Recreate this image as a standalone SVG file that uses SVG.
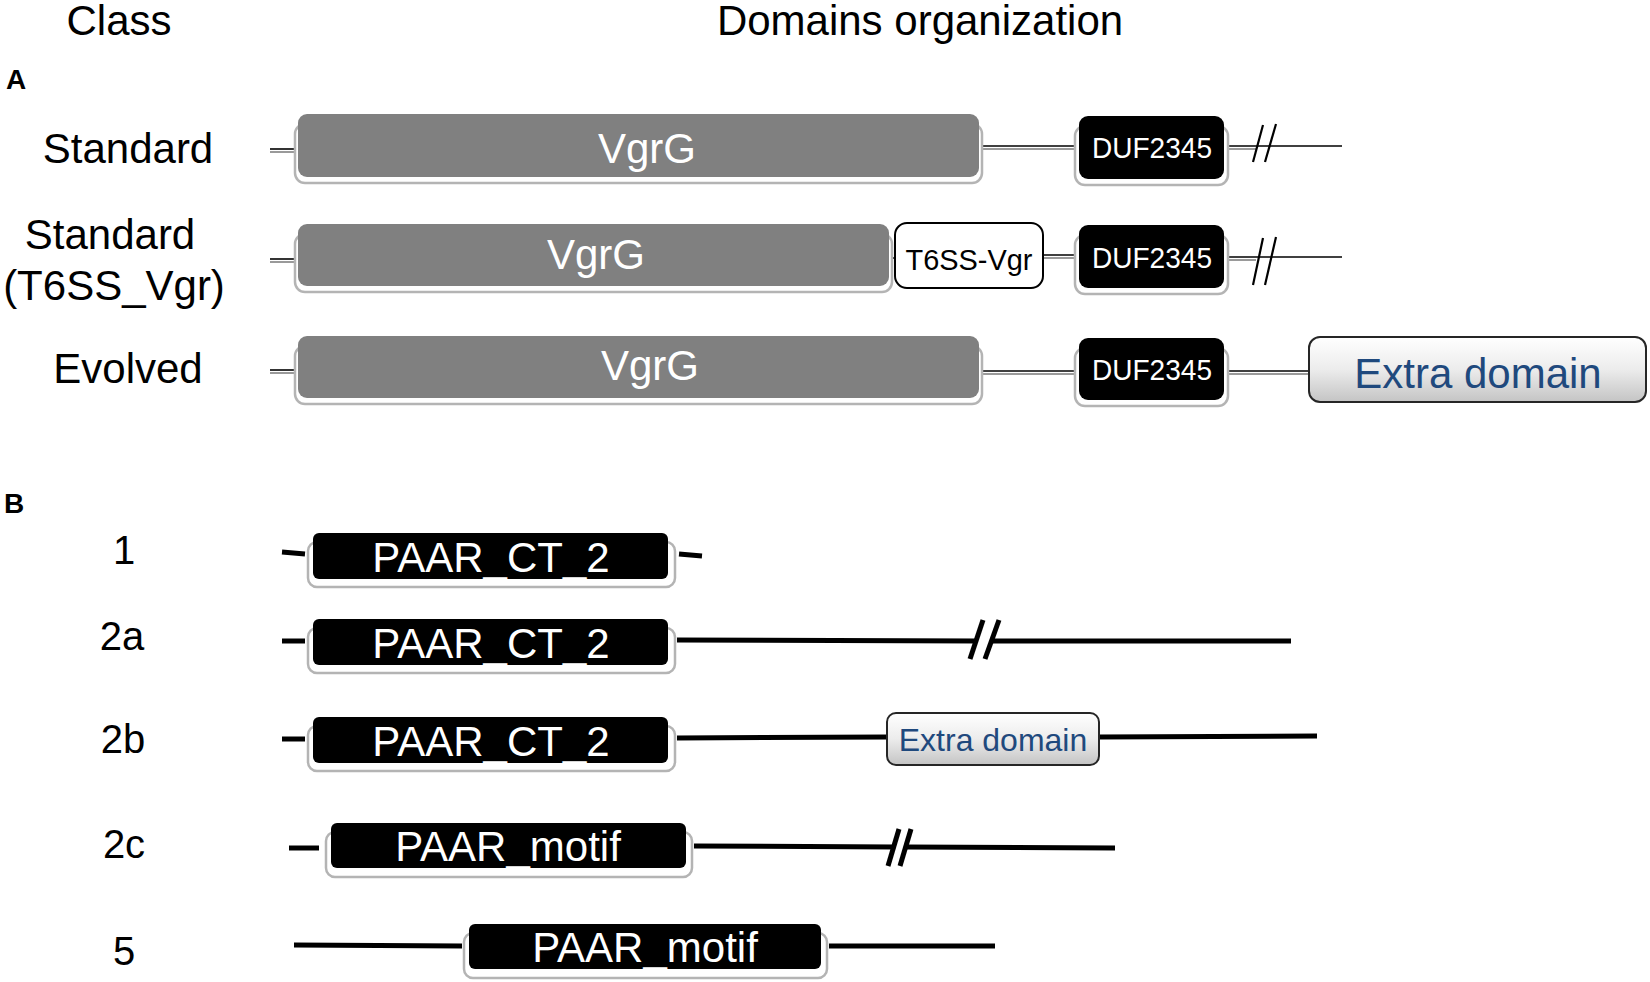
<svg xmlns="http://www.w3.org/2000/svg" width="1650" height="982" viewBox="0 0 1650 982">
<defs>
<linearGradient id="gx" x1="0" y1="0" x2="0" y2="1">
<stop offset="0" stop-color="#ffffff"/>
<stop offset="0.5" stop-color="#ececec"/>
<stop offset="1" stop-color="#c4c4c4"/>
</linearGradient>
</defs>
<style>
.lbl{font-family:"Liberation Sans",Arial,sans-serif;font-size:42px;fill:#000;text-anchor:middle}
.num{font-family:"Liberation Sans",Arial,sans-serif;font-size:40px;fill:#000;text-anchor:middle}
.sec{font-family:"Liberation Sans",Arial,sans-serif;font-size:28px;font-weight:bold;fill:#000}
.shadow{fill:#ffffff;stroke:#b4b4b4;stroke-width:2.5}
.vgrg{fill:#808080}
.blk{fill:#000}
.wtxt{font-family:"Liberation Sans",Arial,sans-serif;fill:#fff;text-anchor:middle}
.btxt{font-family:"Liberation Sans",Arial,sans-serif;fill:#000;text-anchor:middle}
.etxt{font-family:"Liberation Sans",Arial,sans-serif;fill:#1f497d;text-anchor:middle}
.t6{fill:#fff;stroke:#000;stroke-width:2}
.extra{fill:url(#gx);stroke:#262626;stroke-width:2}
.la{stroke:#000;stroke-width:1.6;fill:none}
.las{stroke:#9a9a9a;stroke-width:2;fill:none}
.lb{stroke:#000;stroke-width:5;fill:none}
.sl{stroke:#000;stroke-width:2.2;fill:none}
.slb{stroke:#000;stroke-width:5;fill:none}
</style>
<rect width="1650" height="982" fill="#fff"/>

<g id="headers">
<text class="lbl" x="119" y="35">Class</text>
<text class="lbl" x="920" y="35">Domains organization</text>
<text class="sec" x="6" y="89">A</text>
<text class="sec" x="4" y="513">B</text>
</g>

<g id="class-labels">
<text class="lbl" x="128" y="163">Standard</text>
<text class="lbl" x="110" y="249">Standard</text>
<text class="lbl" x="114" y="300">(T6SS_Vgr)</text>
<text class="lbl" x="128" y="383">Evolved</text>
<text class="num" x="124" y="564">1</text>
<text class="num" x="122" y="650">2a</text>
<text class="num" x="123" y="753">2b</text>
<text class="num" x="124" y="858">2c</text>
<text class="num" x="124" y="965">5</text>
</g>

<g id="connectors">
<line class="las" x1="270" y1="152" x2="298" y2="152"/>
<line class="la" x1="270" y1="149" x2="298" y2="149"/>
<line class="las" x1="979" y1="149" x2="1079" y2="149"/>
<line class="la" x1="979" y1="146" x2="1079" y2="146"/>
<line class="las" x1="1224" y1="149" x2="1256" y2="149"/>
<line class="la" x1="1224" y1="146" x2="1342" y2="146"/>
<line class="sl" x1="1253" y1="162" x2="1263" y2="125"/>
<line class="sl" x1="1265" y1="162" x2="1276" y2="124"/>
<line class="las" x1="270" y1="262" x2="298" y2="262"/>
<line class="la" x1="270" y1="259" x2="298" y2="259"/>
<line class="la" x1="889" y1="258" x2="895" y2="258"/>
<line class="las" x1="1043" y1="258" x2="1079" y2="258"/>
<line class="la" x1="1043" y1="255" x2="1079" y2="255"/>
<line class="las" x1="1224" y1="260" x2="1256" y2="260"/>
<line class="la" x1="1224" y1="257" x2="1342" y2="257"/>
<line class="sl" x1="1253" y1="285" x2="1263" y2="238"/>
<line class="sl" x1="1265" y1="285" x2="1276" y2="237"/>
<line class="las" x1="270" y1="373" x2="298" y2="373"/>
<line class="la" x1="270" y1="370" x2="298" y2="370"/>
<line class="las" x1="979" y1="374" x2="1079" y2="374"/>
<line class="la" x1="979" y1="371" x2="1079" y2="371"/>
<line class="las" x1="1224" y1="374" x2="1309" y2="374"/>
<line class="la" x1="1224" y1="371" x2="1309" y2="371"/>
<line class="lb" x1="282" y1="552" x2="305" y2="554"/>
<line class="lb" x1="679" y1="554" x2="702" y2="556"/>
<line class="lb" x1="282" y1="641" x2="305" y2="641"/>
<line class="lb" x1="677" y1="640" x2="977" y2="641"/>
<line class="lb" x1="993" y1="641" x2="1291" y2="641"/>
<line class="slb" x1="970" y1="659" x2="983" y2="620"/>
<line class="slb" x1="985" y1="659" x2="999" y2="620"/>
<line class="lb" x1="282" y1="739" x2="305" y2="739"/>
<line class="lb" x1="677" y1="738" x2="887" y2="737"/>
<line class="lb" x1="1099" y1="737" x2="1317" y2="736"/>
<line class="lb" x1="289" y1="848" x2="319" y2="848"/>
<line class="lb" x1="694" y1="846" x2="895" y2="847"/>
<line class="lb" x1="907" y1="847" x2="1115" y2="848"/>
<line class="slb" x1="888" y1="866" x2="899" y2="829"/>
<line class="slb" x1="900" y1="866" x2="911" y2="829"/>
<line class="lb" x1="294" y1="945" x2="462" y2="946"/>
<line class="lb" x1="829" y1="946" x2="995" y2="946"/>
</g>

<g id="A-standard-vgrg">
<rect class="shadow" x="295" y="124" width="687" height="59" rx="10"/>
<rect class="vgrg" x="298" y="114" width="681" height="63" rx="9"/>
<text class="wtxt" x="647" y="163" font-size="42">VgrG</text>
</g>
<g id="A-standard-duf">
<rect class="shadow" x="1075" y="126" width="153" height="59" rx="10"/>
<rect class="blk" x="1079" y="116" width="145" height="63" rx="9"/>
<text class="wtxt" x="1152" y="158" font-size="29" textLength="120" lengthAdjust="spacingAndGlyphs">DUF2345</text>
</g>

<g id="A-t6ss-vgrg">
<rect class="shadow" x="295" y="234" width="597" height="58" rx="10"/>
<rect class="vgrg" x="298" y="224" width="591" height="62" rx="9"/>
<text class="wtxt" x="596" y="269" font-size="42">VgrG</text>
</g>
<g id="A-t6ss-vgr">
<rect class="t6" x="895" y="223" width="148" height="65" rx="12"/>
<text class="btxt" x="969" y="270" font-size="29" textLength="127" lengthAdjust="spacingAndGlyphs">T6SS-Vgr</text>
</g>
<g id="A-t6ss-duf">
<rect class="shadow" x="1075" y="235" width="153" height="59" rx="10"/>
<rect class="blk" x="1079" y="225" width="145" height="63" rx="9"/>
<text class="wtxt" x="1152" y="268" font-size="29" textLength="120" lengthAdjust="spacingAndGlyphs">DUF2345</text>
</g>

<g id="A-evolved-vgrg">
<rect class="shadow" x="295" y="346" width="687" height="58" rx="10"/>
<rect class="vgrg" x="298" y="336" width="681" height="62" rx="9"/>
<text class="wtxt" x="650" y="380" font-size="42">VgrG</text>
</g>
<g id="A-evolved-duf">
<rect class="shadow" x="1075" y="348" width="153" height="58" rx="10"/>
<rect class="blk" x="1079" y="338" width="145" height="62" rx="9"/>
<text class="wtxt" x="1152" y="380" font-size="29" textLength="120" lengthAdjust="spacingAndGlyphs">DUF2345</text>
</g>
<g id="A-evolved-extra">
<rect class="extra" x="1309" y="337" width="337" height="65" rx="11"/>
<text class="etxt" x="1478" y="388" font-size="42">Extra domain</text>
</g>

<g id="B-1-paar">
<rect class="shadow" x="308" y="542" width="367" height="45" rx="9"/>
<rect class="blk" x="313" y="533" width="355" height="46" rx="6"/>
<text class="wtxt" x="491" y="572" font-size="42">PAAR_CT_2</text>
</g>
<g id="B-2a-paar">
<rect class="shadow" x="308" y="628" width="367" height="45" rx="9"/>
<rect class="blk" x="313" y="619" width="355" height="46" rx="6"/>
<text class="wtxt" x="491" y="658" font-size="42">PAAR_CT_2</text>
</g>
<g id="B-2b-paar">
<rect class="shadow" x="308" y="726" width="367" height="45" rx="9"/>
<rect class="blk" x="313" y="717" width="355" height="46" rx="6"/>
<text class="wtxt" x="491" y="756" font-size="42">PAAR_CT_2</text>
</g>
<g id="B-2b-extra">
<rect class="extra" x="887" y="713" width="212" height="52" rx="9"/>
<text class="etxt" x="993" y="751" font-size="32">Extra domain</text>
</g>
<g id="B-2c-paar">
<rect class="shadow" x="326" y="832" width="366" height="45" rx="9"/>
<rect class="blk" x="331" y="823" width="355" height="45" rx="6"/>
<text class="wtxt" x="508" y="861" font-size="42">PAAR_motif</text>
</g>
<g id="B-5-paar">
<rect class="shadow" x="464" y="933" width="363" height="45" rx="9"/>
<rect class="blk" x="469" y="924" width="352" height="45" rx="6"/>
<text class="wtxt" x="645" y="962" font-size="42">PAAR_motif</text>
</g>
</svg>
